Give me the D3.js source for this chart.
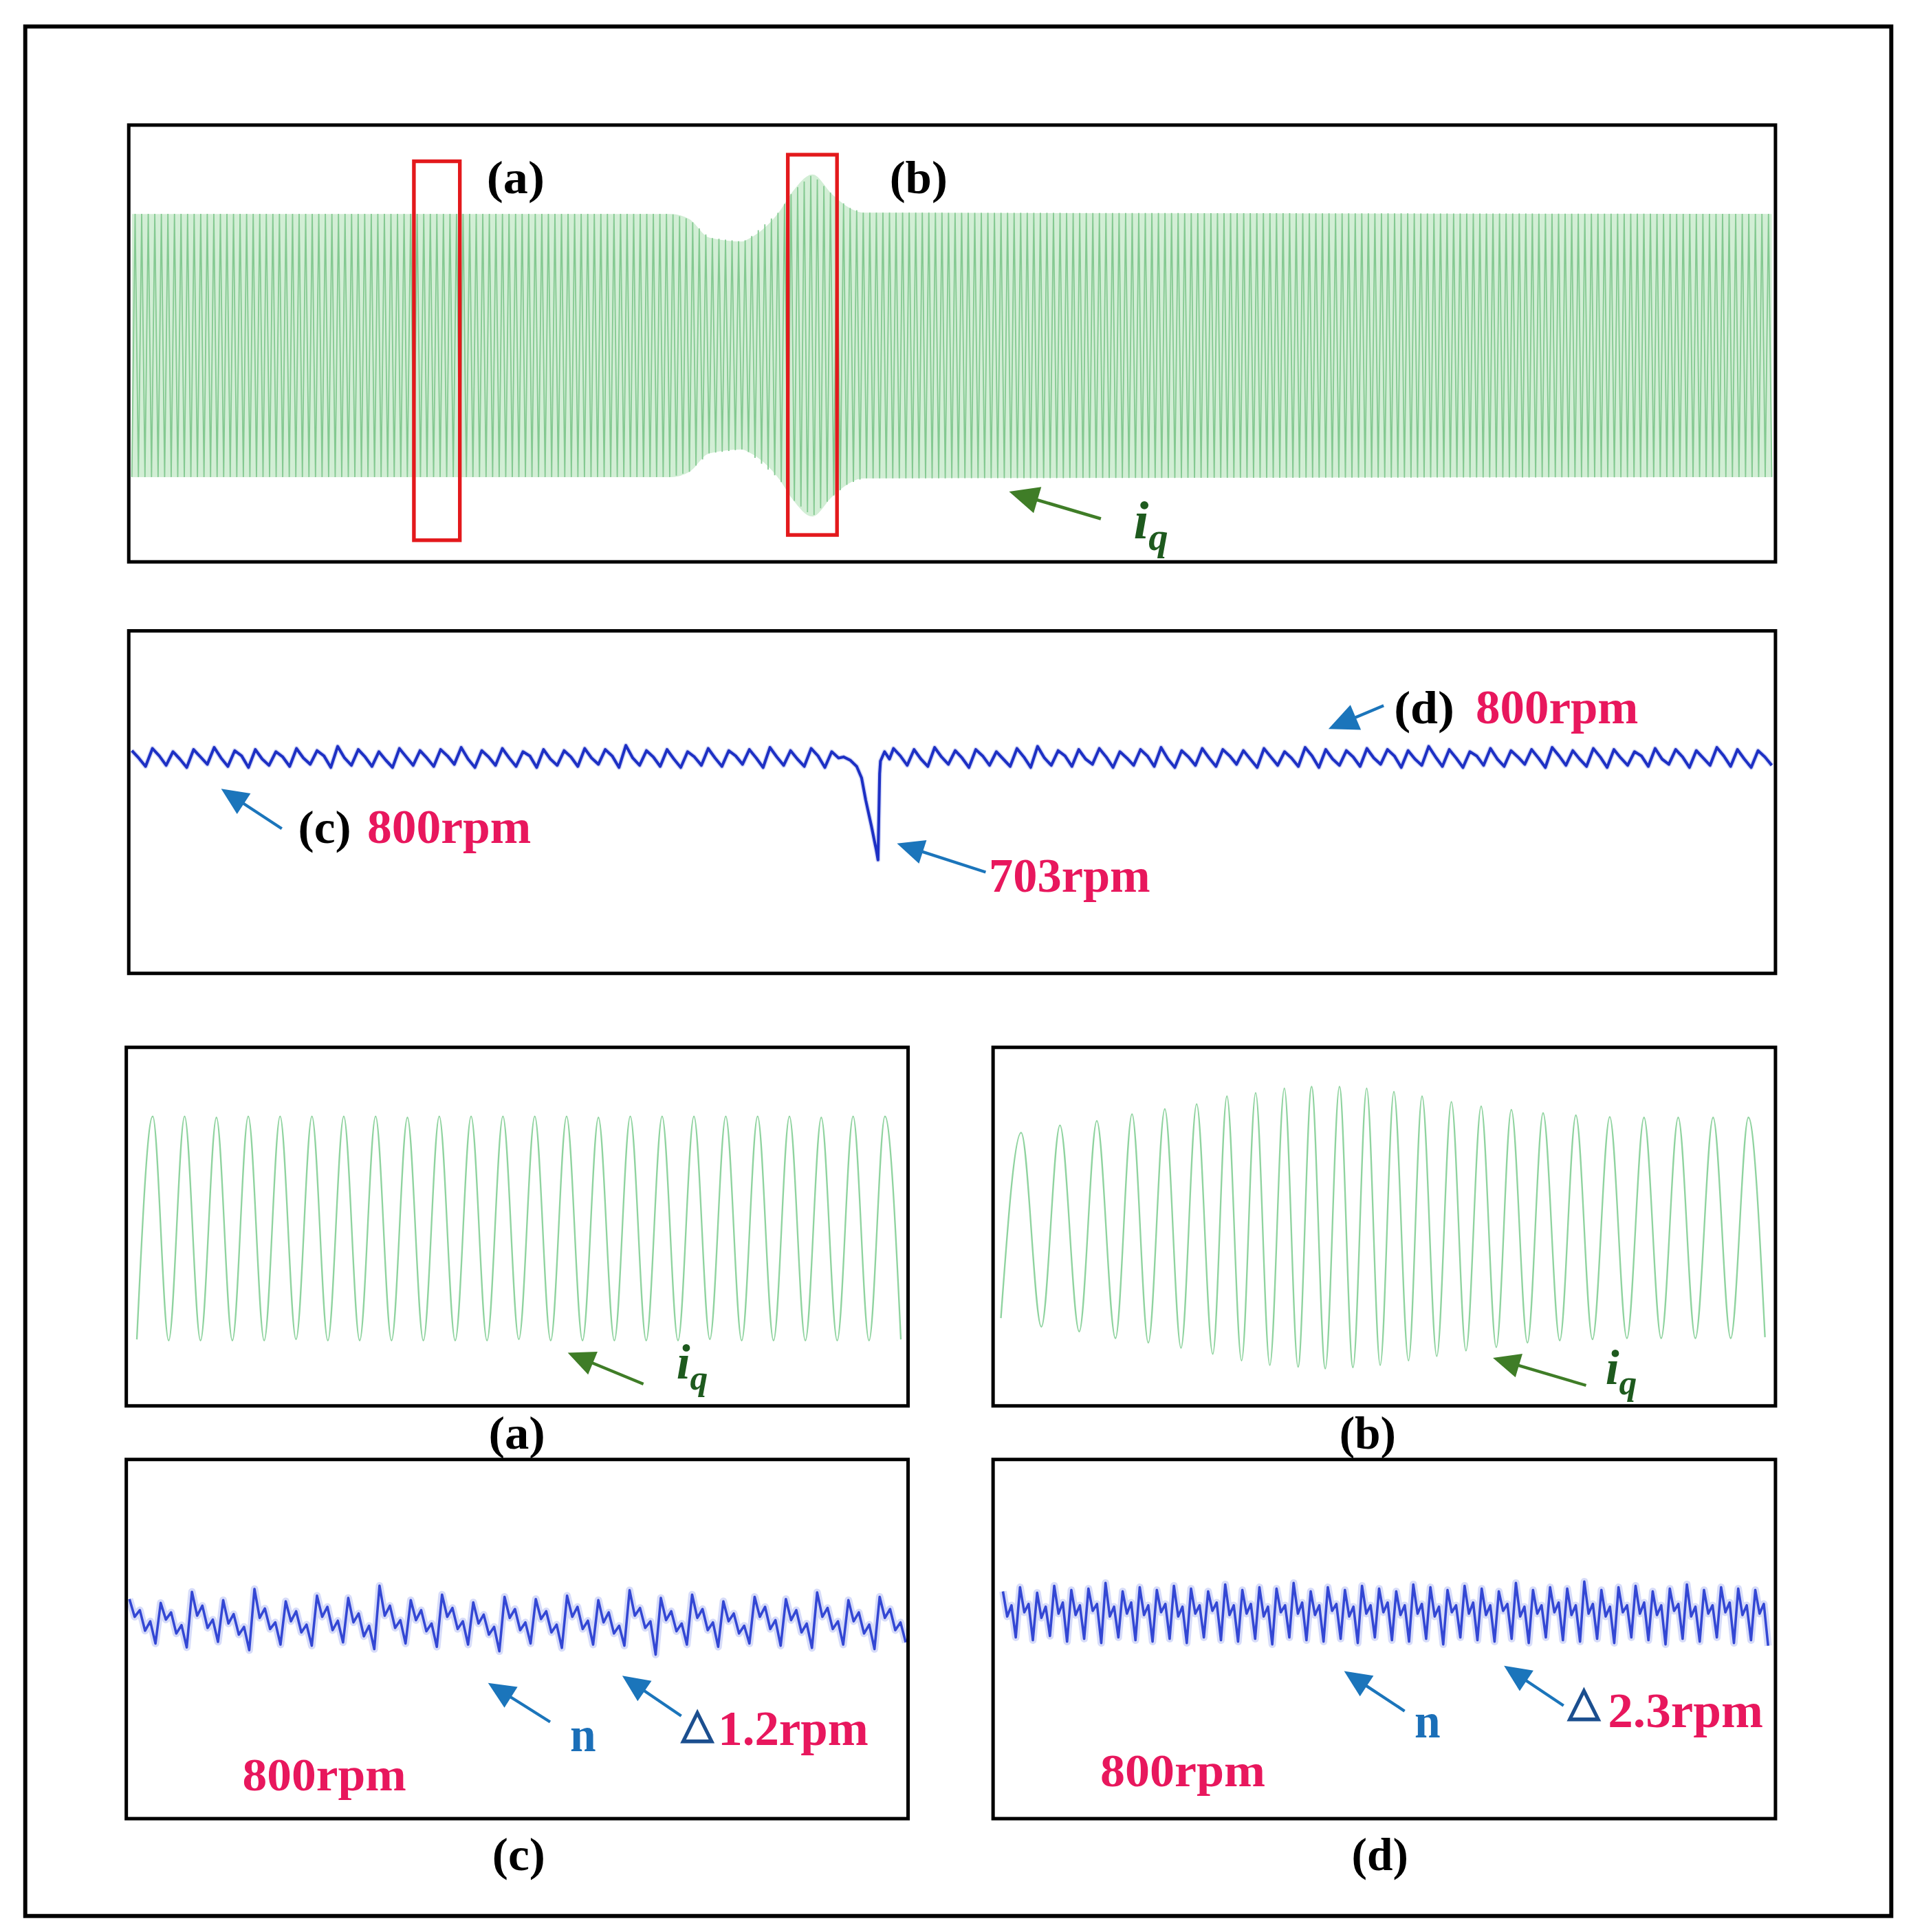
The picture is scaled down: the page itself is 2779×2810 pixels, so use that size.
<!DOCTYPE html>
<html>
<head>
<meta charset="utf-8">
<script src="https://d3js.org/d3.v7.min.js"></script>
<style>
  html, body { margin:0; padding:0; background:#fff; }
  svg { display:block; }
</style>
</head>
<body>
<script>
// ---------- data ----------

// top panel: i_q envelope (A, normalised) against time (s)
const envTime = [0, 3.29, 3.40, 3.52, 3.72, 3.76, 3.95, 4.03, 4.15, 4.27, 4.37, 4.46, 10];
const envAmp  = [1.0, 1.0, 0.96, 0.82, 0.79, 0.81, 1.02, 1.17, 1.30, 1.15, 1.05, 1.01, 1.0];
const topCycles = 250;

// zoom windows marked on the top panel (time s, amplitude)
const windowLabels = ["(a)", "(b)"];
const windowStart  = [1.72, 4.00];
const windowEnd    = [2.00, 4.30];
const windowHigh   = [1.40, 1.45];
const windowLow    = [-1.48, -1.44];

// middle panel: speed ripple (rpm deviation from 800), evenly spaced over 0..10 s
const rippleTop = [
  7,0,-8, 9,2,-7, 6,-1,-9, 8,1,-6, 10,0,-8, 7,2,-9, 8,-1,-7, 6,1,-8, 9,0,-6, 7,2,-9,
  11,0,-7, 8,1,-8, 6,-2,-9, 9,1,-7, 7,0,-8, 8,2,-6, 10,-1,-9, 7,1,-7, 9,0,-8, 6,2,-9,
  8,-1,-7, 7,1,-8, 9,0,-6, 8,2,-9, 12,0,-7, 7,1,-8, 8,-1,-9, 6,1,-7, 9,0,-8, 7,2,-6,
  8,0,-9, 10,1,-7, 7,-1,-8, 9,2,-9, 6,0,-7, 8,1,-8, 7,0,-9, 9,2,-7, 8,-1,-8, 10,1,-6,
  7,0,-9, 8,2,-7, 6,-1,-8, 9,1,-9, 11,0,-7, 7,2,-8, 8,-1,-6, 9,1,-9, 6,0,-7, 8,2,-8,
  10,-1,-9, 7,1,-7, 9,0,-8, 8,2,-6, 7,-1,-9, 9,1,-7, 6,0,-8, 10,2,-9, 8,-1,-7, 7,1,-8,
  9,0,-6, 8,2,-9, 7,-1,-7, 11,1,-8, 8,0,-9, 6,2,-7, 9,-1,-8, 7,1,-6, 8,0,-9, 10,2,-7,
  7,-1,-8, 9,1,-9, 8,0,-7, 6,2,-8, 9,-1,-6, 8,1,-9, 7,0,-7, 10,2,-8, 8,-1,-9, 7,1,-7
];
// speed dip at the load step (s, rpm)
const dipTime  = [4.34, 4.38, 4.42, 4.45, 4.475, 4.51, 4.54, 4.55, 4.56, 4.565, 4.59, 4.62];
const dipSpeed = [801, 798, 792, 781, 760, 735, 712, 703, 785, 797, 806, 799];

// zoom (a): i_q extremes, trough first, evenly spaced half periods (ms)
const zoomAStart = 1.35, zoomAHalf = 2.036;
const zoomACurrent = [
  -0.99, 1.0, -1.0, 1.0, -1.0, 0.99, -1.0, 1.0, -1.0, 1.0, -0.99, 1.0,
  -1.0, 1.0, -1.0, 1.0, -1.0, 0.99, -1.0, 1.0, -1.0, 1.0, -1.0, 1.0,
  -0.99, 1.0, -1.0, 1.0, -1.0, 0.99, -1.0, 1.0, -1.0, 1.0, -1.0, 1.0,
  -0.99, 1.0, -1.0, 1.0, -1.0, 1.0, -1.0, 0.99, -1.0, 1.0, -1.0, 1.0, -0.99
];

// zoom (b): i_q extremes (ms, A normalised)
const zoomBTime = [1.0, 3.59, 6.17, 8.55, 11.01, 13.26, 15.64, 17.76, 19.84, 21.95, 24.02, 26.02, 28.08,
  29.89, 31.76, 33.56, 35.37, 37.23, 38.98, 40.71, 42.46, 44.27, 46.0, 47.75, 49.48, 51.23, 53.10,
  54.83, 56.71, 58.58, 60.44, 62.38, 64.31, 66.24, 68.30, 70.30, 72.43, 74.49, 76.61, 78.82, 81.01,
  83.20, 85.39, 87.57, 89.76, 92.03, 94.28, 96.54, 98.66];
const zoomBCurrent = [-0.80, 0.854, -0.878, 0.92, -0.92, 0.96, -0.98, 1.02, -1.02, 1.066, -1.066, 1.11, -1.12,
  1.18, -1.18, 1.21, -1.22, 1.25, -1.235, 1.265, -1.25, 1.265, -1.24, 1.25, -1.22, 1.22, -1.18,
  1.18, -1.14, 1.13, -1.09, 1.09, -1.06, 1.06, -1.02, 1.03, -1.0, 1.01, -0.99, 0.995, -0.98,
  0.99, -0.98, 0.99, -0.98, 0.99, -0.98, 0.99, -0.97];

// zoom (c): speed deviation (rpm), evenly spaced 0.4..99.7 ms
const speedCStart = 0.4, speedCEnd = 99.7;
const speedC = [
  0.42,0.10,0.22,-0.15,0.02,-0.38,  0.35,0.05,0.18,-0.20,-0.05,-0.45,  0.55,0.12,0.30,-0.10,0.05,-0.35,
  0.40,-0.02,0.15,-0.22,-0.08,-0.50, 0.60,0.08,0.25,-0.12,0.00,-0.40,  0.38,0.02,0.20,-0.18,-0.04,-0.42,
  0.48,0.10,0.28,-0.14,0.03,-0.36,  0.44,0.00,0.16,-0.25,-0.06,-0.48,  0.66,0.12,0.30,-0.10,0.04,-0.38,
  0.40,0.04,0.22,-0.16,-0.02,-0.44, 0.50,0.10,0.26,-0.12,0.02,-0.40,   0.36,-0.02,0.14,-0.22,-0.08,-0.52,
  0.46,0.08,0.24,-0.14,0.00,-0.38,  0.42,0.06,0.20,-0.18,-0.04,-0.46,  0.48,0.10,0.28,-0.12,0.03,-0.40,
  0.40,0.00,0.18,-0.20,-0.06,-0.42, 0.58,0.12,0.26,-0.10,0.02,-0.58,   0.44,0.04,0.20,-0.16,-0.02,-0.40,
  0.50,0.08,0.24,-0.14,0.00,-0.44,  0.38,0.02,0.16,-0.20,-0.06,-0.38,  0.46,0.10,0.28,-0.12,0.04,-0.42,
  0.42,0.04,0.22,-0.18,-0.02,-0.46, 0.54,0.10,0.26,-0.12,0.02,-0.40,   0.40,0.02,0.18,-0.20,-0.04,-0.48,
  0.46,0.08,0.24,-0.14,0.00,-0.36
];

// zoom (d): speed deviation (rpm), evenly spaced 1.26..99.06 ms
const speedDStart = 1.26, speedDEnd = 99.06;
const speedD = [
  0.80,-0.10,0.30,-0.85, 0.95,0.05,0.35,-0.95, 0.75,-0.15,0.25,-0.80, 1.00,0.00,0.40,-1.00, 0.85,-0.05,0.30,-0.90,
  0.90,0.10,0.35,-1.05, 1.10,-0.10,0.25,-0.85, 0.80,0.00,0.40,-0.95, 0.95,-0.05,0.30,-1.00, 0.85,0.05,0.35,-0.90,
  1.00,-0.10,0.25,-1.05, 0.90,0.00,0.30,-0.85, 0.80,0.10,0.40,-0.95, 1.05,-0.05,0.30,-1.00, 0.85,0.00,0.35,-0.90,
  0.95,-0.10,0.25,-1.10, 0.90,0.05,0.30,-0.85, 1.10,0.00,0.40,-0.95, 0.80,-0.05,0.30,-1.00, 0.95,0.10,0.35,-0.90,
  0.85,-0.10,0.25,-1.05, 1.00,0.00,0.30,-0.85, 0.90,0.05,0.40,-0.95, 0.80,-0.05,0.30,-1.00, 1.05,0.00,0.35,-0.90,
  0.95,-0.10,0.25,-1.10, 0.85,0.05,0.30,-0.85, 1.00,0.00,0.40,-0.95, 0.90,-0.05,0.30,-1.00, 0.80,0.10,0.35,-0.90,
  1.10,-0.10,0.25,-1.05, 0.85,0.00,0.30,-0.85, 0.95,0.05,0.40,-0.95, 0.90,-0.05,0.30,-1.00, 1.15,0.00,0.35,-0.90,
  0.85,-0.10,0.25,-1.05, 0.95,0.05,0.30,-0.85, 1.00,0.00,0.40,-0.95, 0.80,-0.05,0.30,-1.10, 0.90,0.10,0.35,-0.90,
  1.05,-0.10,0.25,-1.00, 0.85,0.00,0.30,-0.85, 0.95,0.05,0.40,-1.05, 0.90,-0.05,0.30,-0.95, 0.85,0.00,0.35,-1.15
];

// ---------- drawing ----------
const W = 1551, H = 1568;
const serif = "'Liberation Serif', 'Times New Roman', serif";
const pink = "#e8175d", arrowBlue = "#1b75bb", darkGreen = "#1e5a1e", arrowGreen = "#3f7d27";

const svg = d3.select("body").append("svg")
  .attr("width", 2779).attr("height", 2810)
  .attr("viewBox", `0 0 ${W} ${H}`)
  .attr("preserveAspectRatio", "none");

svg.append("rect").attr("width", W).attr("height", H).attr("fill", "#fff");

function frame(x0, y0, x1, y1, sw) {
  svg.append("rect").attr("x", x0).attr("y", y0)
    .attr("width", x1 - x0).attr("height", y1 - y0)
    .attr("fill", "none").attr("stroke", "#000").attr("stroke-width", sw);
}

function arrow(x1, y1, x2, y2, color, lw, hl, hw) {
  const dx = x2 - x1, dy = y2 - y1, len = Math.hypot(dx, dy);
  const ux = dx / len, uy = dy / len;
  const bx = x2 - ux * hl, by = y2 - uy * hl;
  svg.append("line").attr("x1", x1).attr("y1", y1).attr("x2", bx + ux * 2).attr("y2", by + uy * 2)
    .attr("stroke", color).attr("stroke-width", lw);
  svg.append("path")
    .attr("d", `M${x2},${y2}L${bx - uy * hw},${by + ux * hw}L${bx + uy * hw},${by - ux * hw}Z`)
    .attr("fill", color);
}

function label(txt, x, y, o) {
  const t = svg.append("text").attr("x", x).attr("y", y)
    .attr("font-family", o.family || serif)
    .attr("font-weight", o.weight || "bold")
    .attr("font-style", o.style || "normal")
    .attr("font-size", o.size)
    .attr("fill", o.fill || "#000")
    .attr("text-anchor", o.anchor || "start")
    .text(txt);
  if (o.len) t.attr("textLength", o.len).attr("lengthAdjust", "spacingAndGlyphs");
  return t;
}

function iq(x, y, size) {
  const t = svg.append("text").attr("x", x).attr("y", y)
    .attr("font-family", serif).attr("font-weight", "bold").attr("font-style", "italic")
    .attr("fill", darkGreen).attr("font-size", size);
  t.append("tspan").text("i");
  t.append("tspan").attr("font-size", size * 0.72).attr("dy", size * 0.22).text("q");
}

function delta(x, y, size) {
  label("\u25B3", x, y, { family: "'DejaVu Sans', sans-serif", weight: "normal", size: size, fill: "#1c4f8f" })
    .attr("stroke", "#1c4f8f").attr("stroke-width", 1.2);
}

// outer frame and panels
frame(20.5, 21.5, 1535, 1555, 3.3);
const panels = [
  [104.5, 101.5, 1441, 456], [104.5, 512, 1441, 790],
  [102.5, 850, 737, 1141], [806, 850, 1441, 1141],
  [102.5, 1184.5, 737, 1476], [806, 1184.5, 1441, 1476]
];

// ---- top panel: i_q band ----
const topX = d3.scaleLinear().domain([0, 10]).range([107, 1438]);
const topY = d3.scaleLinear().domain([-1.65, 1.65]).range([456.6, 104.2]);
const env = d3.scaleLinear().domain(envTime).range(envAmp);

svg.append("path")
  .datum(envTime)
  .attr("fill", "#d2eed5")
  .attr("d", d3.area().x(d => topX(d)).y0(d => topY(-env(d))).y1(d => topY(env(d)))
    .curve(d3.curveMonotoneX));

const topExtremes = d3.range(0, 2 * topCycles + 1).map(k => {
  const t = k * 10 / (2 * topCycles);
  return [t, (k % 2 ? 1 : -1) * env(t)];
});
svg.append("path")
  .datum(topExtremes)
  .attr("fill", "none").attr("stroke", "#84c991").attr("stroke-width", 1.0)
  .attr("d", d3.line().x(d => topX(d[0])).y(d => topY(d[1])));

windowLabels.forEach((lab, i) => {
  svg.append("rect")
    .attr("x", topX(windowStart[i])).attr("y", topY(windowHigh[i]))
    .attr("width", topX(windowEnd[i]) - topX(windowStart[i]))
    .attr("height", topY(windowLow[i]) - topY(windowHigh[i]))
    .attr("fill", "none").attr("stroke", "#e3191c").attr("stroke-width", 3);
});
label("(a)", 418.5, 157, { size: 38, anchor: "middle", len: 47 });
label("(b)", 745.5, 157, { size: 38, anchor: "middle", len: 47 });
arrow(893.5, 421, 819, 399, arrowGreen, 2.6, 24, 11);
iq(920, 437, 44);

// ---- middle panel: speed ----
const midY = d3.scaleLinear().domain([595, 921]).range([790, 512]);
const ripplePts = rippleTop.map((v, i) => [i * 10 / (rippleTop.length - 1), 800 + v])
  .filter(d => d[0] < 4.33 || d[0] > 4.62);
const speedPts = ripplePts.concat(dipTime.map((t, i) => [t, dipSpeed[i]]))
  .sort((a, b) => a[0] - b[0]);
const midLine = d3.line().x(d => topX(d[0])).y(d => midY(d[1]));
svg.append("path")
  .datum(speedPts)
  .attr("fill", "none").attr("stroke", "#5a6ae0").attr("stroke-width", 4)
  .attr("stroke-opacity", 0.25).attr("stroke-linejoin", "round")
  .attr("d", midLine);
svg.append("path")
  .datum(speedPts)
  .attr("fill", "none").attr("stroke", "#1d30c4").attr("stroke-width", 2.3)
  .attr("stroke-linejoin", "round")
  .attr("d", midLine);

arrow(228.7, 672.5, 179.5, 640.2, arrowBlue, 2.4, 22, 10);
label("(c)", 242, 684, { size: 38, len: 43 });
label("800rpm", 298, 684, { size: 39, fill: pink, len: 133 });
arrow(800, 707.8, 728, 684.6, arrowBlue, 2.4, 22, 10);
label("703rpm", 802.6, 724, { size: 39, fill: pink, len: 131 });
arrow(1123, 572.6, 1078.2, 591.6, arrowBlue, 2.4, 24, 11);
label("(d)", 1131.4, 587, { size: 38, len: 49 });
label("800rpm", 1197.7, 587, { size: 39, fill: pink, len: 132 });

// ---- zoom (a), (b): i_q ----
const zaX = d3.scaleLinear().domain([0, 100]).range([102.5, 737]);
const zbX = d3.scaleLinear().domain([0, 100]).range([806, 1441]);
const zY = d3.scaleLinear().domain([-1.6, 1.6]).range([1142.6, 851.4]);

const zoomAPts = zoomACurrent.map((v, i) => [zoomAStart + i * zoomAHalf, v]);
svg.append("path")
  .datum(zoomAPts)
  .attr("fill", "none").attr("stroke", "#8fd39f").attr("stroke-width", 1.3)
  .attr("d", d3.line().x(d => zaX(d[0])).y(d => zY(d[1])).curve(d3.curveMonotoneX));

svg.append("path")
  .datum(zoomBTime.map((t, i) => [t, zoomBCurrent[i]]))
  .attr("fill", "none").attr("stroke", "#8fd39f").attr("stroke-width", 1.3)
  .attr("d", d3.line().x(d => zbX(d[0])).y(d => zY(d[1])).curve(d3.curveMonotoneX));

arrow(522.2, 1123.3, 460.8, 1097.9, arrowGreen, 2.4, 22, 10);
iq(549, 1119, 40);
arrow(1287.3, 1124.4, 1211.7, 1102, arrowGreen, 2.4, 22, 10);
iq(1303, 1123, 40);
label("(a)", 419.5, 1176, { size: 38, anchor: "middle", len: 46 });
label("(b)", 1110, 1176, { size: 38, anchor: "middle", len: 46 });

// ---- zoom (c), (d): speed ----
const zcY = d3.scaleLinear().domain([796.47, 802.93]).range([1476, 1184.5]);
const zdY = d3.scaleLinear().domain([792.65, 805.53]).range([1476, 1184.5]);

function fuzzyLine(pts, xs, ys) {
  const line = d3.line().x(d => xs(d[0])).y(d => ys(d[1]));
  svg.append("path").datum(pts)
    .attr("fill", "none").attr("stroke", "#6f80ea").attr("stroke-width", 6)
    .attr("stroke-opacity", 0.28).attr("stroke-linejoin", "round").attr("d", line);
  svg.append("path").datum(pts)
    .attr("fill", "none").attr("stroke", "#3347d4").attr("stroke-width", 2.0)
    .attr("stroke-linejoin", "round").attr("d", line);
}
const stepC = (speedCEnd - speedCStart) / (speedC.length - 1);
fuzzyLine(speedC.map((v, i) => [speedCStart + i * stepC, 800 + v]), zaX, zcY);
const stepD = (speedDEnd - speedDStart) / (speedD.length - 1);
fuzzyLine(speedD.map((v, i) => [speedDStart + i * stepD, 800 + v]), zbX, zdY);

arrow(446.5, 1397.5, 396.1, 1365.8, arrowBlue, 2.4, 22, 10);
label("n", 462.7, 1421, { size: 40, fill: "#1b6fb8", len: 21 });
arrow(552.9, 1392.7, 505, 1360, arrowBlue, 2.4, 22, 10);
delta(553, 1410, 34);
label("1.2rpm", 582.8, 1416, { size: 40, fill: pink, len: 122 });
label("800rpm", 196.7, 1453, { size: 38, fill: pink, len: 133 });
label("(c)", 421, 1518, { size: 38, anchor: "middle", len: 43 });

arrow(1140, 1388.7, 1090.9, 1356.3, arrowBlue, 2.4, 22, 10);
label("n", 1148, 1410, { size: 40, fill: "#1b6fb8", len: 21 });
arrow(1269, 1384.3, 1220.7, 1351.9, arrowBlue, 2.4, 22, 10);
delta(1272.5, 1392.5, 34);
label("2.3rpm", 1305, 1401.5, { size: 40, fill: pink, len: 126 });
label("800rpm", 893, 1449.6, { size: 38, fill: pink, len: 134 });
label("(d)", 1120, 1518, { size: 38, anchor: "middle", len: 46 });

panels.forEach(p => frame(p[0], p[1], p[2], p[3], 2.8));
</script>
</body>
</html>
